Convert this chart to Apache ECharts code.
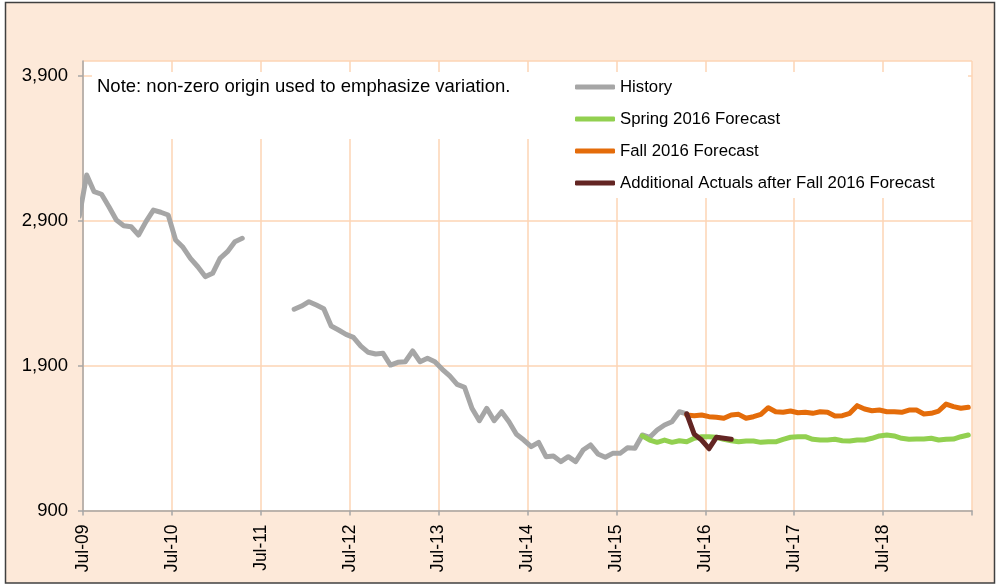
<!DOCTYPE html>
<html>
<head>
<meta charset="utf-8">
<script src="https://cdn.jsdelivr.net/npm/echarts@6/dist/echarts.min.js"></script>
<style>
html,body{margin:0;padding:0;background:#fff;}
#chart{width:998px;height:584px;}
</style>
</head>
<body>
<div id="chart"></div>
<script>
// ---- data ----
const tickLabels = ['Jul-09','Jul-10','Jul-11','Jul-12','Jul-13','Jul-14','Jul-15','Jul-16','Jul-17','Jul-18'];
const monthNames = ['Jan','Feb','Mar','Apr','May','Jun','Jul','Aug','Sep','Oct','Nov','Dec'];

const historyStart = 'Jun-09';
const historyValues = [
  2930,
  3214,3099,3081,2995,2903,2864,2857,2800,2892,2972,2957,2938,
  2766,2715,2639,2581,2513,2536,2639,2685,2754,2777,null,null,
  null,null,null,null,2288,2310,2340,2317,2292,2172,2145,2115,
  2094,2034,1991,1979,1984,1903,1922,1926,2000,1926,1950,1926,
  1874,1828,1770,1750,1605,1519,1605,1519,1581,1512,1426,1386,
  1340,1370,1271,1276,1237,1271,1237,1317,1352,1290,1267,1294,
  1294,1333,1329,1421,1405,1455,1490,1512,1581,1566
];

const springStart = 'Oct-15';
const springValues = [
  1415,1386,1370,1386,1370,1381,1374,1398,1409,1409,1405,1391,
  1381,1374,1379,1379,1370,1374,1374,1391,1405,1409,1409,1391,
  1386,1386,1391,1381,1379,1386,1386,1398,1414,1421,1414,1398,
  1391,1393,1393,1398,1386,1391,1393,1409,1421
];

const fallStart = 'Apr-16';
const fallValues = [
  1559,1554,1559,1547,1543,1536,1559,1563,1536,1547,1563,1609,
  1581,1577,1586,1574,1577,1570,1581,1577,1552,1554,1570,1623,
  1600,1588,1593,1581,1581,1577,1593,1593,1566,1570,1586,1634,
  1616,1605,1612
];

const additionalStart = 'Apr-16';
const additionalValues = [1566,1427,1386,1326,1405,1398,1391];

const seriesNames = ['History','Spring 2016 Forecast','Fall 2016 Forecast','Additional Actuals after Fall 2016 Forecast'];
const noteText = 'Note: non-zero origin used to emphasize variation.';

// months elapsed since Jul-09; monthly values plotted mid-month
function monthOffset(label){
  const [m, y] = label.split('-');
  return (2000 + Number(y) - 2009) * 12 + monthNames.indexOf(m) - 6;
}
function build(start, values){
  const s = monthOffset(start);
  return values.map((v, i) => [s + i + 0.5, v]);
}

const font = 'Liberation Sans, Arial, sans-serif';
const colors = ['#a6a6a6','#92d050','#e46c0a','#632523'];

const chart = echarts.init(document.getElementById('chart'), null, {renderer:'canvas'});
const mk = (name, data, color, z) => ({
  name, type:'line', data, showSymbol:false, symbol:'none', connectNulls:false,
  clip:true, z: z,
  lineStyle:{color, width:5, cap:'round', join:'round'},
  itemStyle:{color}
});

chart.setOption({
  animation:false,
  backgroundColor:'#ffffff',
  grid:{left:83, right:26, top:61, bottom:73.5, show:true, backgroundColor:'#ffffff', borderWidth:0},
  xAxis:{
    type:'value', min:0, max:120, interval:12,
    axisLine:{show:true, onZero:false, lineStyle:{color:'#a6a6a6', width:1.5}},
    axisTick:{show:true, length:5, lineStyle:{color:'#a6a6a6', width:1.5}},
    splitLine:{show:true, lineStyle:{color:'#fcd5b5', width:1.5}},
    axisLabel:{
      rotate:90, margin:14, color:'#000', fontSize:17.5, fontFamily:font,
      padding:[8,0,0,0],
      showMaxLabel:true, showMinLabel:true,
      formatter: v => tickLabels[Math.round(v/12)] || ''
    }
  },
  yAxis:{
    type:'value', min:900, max:4000, interval:1000,
    axisLine:{show:true, lineStyle:{color:'#a6a6a6', width:1.5}},
    axisTick:{show:true, length:5, lineStyle:{color:'#a6a6a6', width:1.5}},
    splitLine:{show:true, lineStyle:{color:'#fcd5b5', width:1.5}},
    axisLabel:{
      margin:15, color:'#000', fontSize:18.5, fontFamily:font, showMaxLabel:false,
      formatter: v => v.toLocaleString('en-US')
    }
  },
  legend:{
    orient:'vertical', left:570, top:72, itemWidth:40, itemHeight:5, itemGap:12,
    icon:'roundRect', selectedMode:false,
    textStyle:{color:'#000', fontSize:16.75, fontFamily:font, lineHeight:20},
    data: seriesNames
  },
  graphic:[
    {type:'rect', z:-1, silent:true, shape:{x:5.5, y:2.5, width:989, height:580.5},
     style:{fill:'#fde9d9', stroke:'#404040', lineWidth:1.5}},
    {type:'rect', z:1, silent:true, shape:{x:92, y:72, width:470, height:67}, style:{fill:'#ffffff'}},
    {type:'rect', z:1, silent:true, shape:{x:560, y:72, width:408, height:126}, style:{fill:'#ffffff'}},
    {type:'text', z:5, silent:true, left:97, top:77,
     style:{text:noteText, fill:'#000', fontSize:18.5, fontFamily:font}}
  ],
  series:[
    mk(seriesNames[0], build(historyStart, historyValues), colors[0], 2),
    mk(seriesNames[1], build(springStart, springValues), colors[1], 3),
    mk(seriesNames[2], build(fallStart, fallValues), colors[2], 4),
    mk(seriesNames[3], build(additionalStart, additionalValues), colors[3], 5)
  ]
});
</script>
</body>
</html>
